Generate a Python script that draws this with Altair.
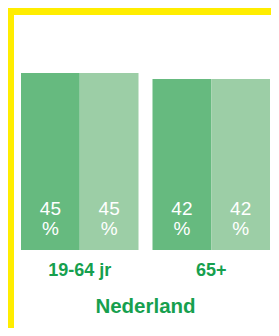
import altair as alt
import pandas as pd

# data
groups = ["19-64 jr", "19-64 jr", "65+", "65+"]
series = ["A", "B", "A", "B"]
heights = [45, 45, 43.5, 43.5]          # bar heights
labels = ["45", "45", "42", "42"]       # printed values
group_names = ["19-64 jr", "65+"]
series_names = ["A", "B"]
series_colors = ["#66BA7F", "#9CCEA6"]
title_text = "Nederland"

GREEN = "#16A04E"
YELLOW = "#FFED00"
FONT = "Liberation Sans"

df = pd.DataFrame({"groep": groups, "reeks": series, "waarde": heights, "label": labels})
gdf = pd.DataFrame({"groep": group_names})

x = alt.X("groep:N", sort=group_names, axis=None,
          scale=alt.Scale(paddingInner=28 / 263, paddingOuter=0))
xo = alt.XOffset("reeks:N", sort=series_names,
                 scale=alt.Scale(paddingInner=0, paddingOuter=0))
y = alt.Y("waarde:Q", axis=None, scale=alt.Scale(domain=[0, 45], nice=False, zero=True))

bars = alt.Chart(df).mark_bar(strokeWidth=0).encode(
    x=x, xOffset=xo, y=y,
    color=alt.Color("reeks:N", scale=alt.Scale(domain=series_names, range=series_colors), legend=None),
)

num = alt.Chart(df).mark_text(font=FONT, fontSize=19, color="white", baseline="alphabetic",
                              align="center", dy=-35).encode(
    x=x, xOffset=xo, y=alt.datum(0), text="label:N")

pct = alt.Chart(df).mark_text(font=FONT, fontSize=19, color="white", baseline="alphabetic",
                              align="center", dy=-15).encode(
    x=x, xOffset=xo, y=alt.datum(0), text=alt.value("%"))

glab = alt.Chart(gdf).mark_text(font=FONT, fontSize=18, fontWeight="bold", color=GREEN,
                                baseline="alphabetic", align="center", dy=26).encode(
    x=x, y=alt.datum(0), text="groep:N")

title = alt.Chart(gdf).transform_filter(alt.datum.groep == group_names[0]).mark_text(
    font=FONT, fontSize=20.5, fontWeight="bold", color=GREEN,
    baseline="alphabetic", align="center", dy=62.5).encode(
    x=alt.value(124.5), y=alt.datum(0), text=alt.value(title_text))

frame_top = alt.Chart(gdf).transform_filter(alt.datum.groep == group_names[0]).mark_rect(
    color=YELLOW).encode(
    x=alt.value(-13), x2=alt.value(250), y=alt.value(-65), y2=alt.value(-58))
frame_left = alt.Chart(gdf).transform_filter(alt.datum.groep == group_names[0]).mark_rect(
    color=YELLOW).encode(
    x=alt.value(-13), x2=alt.value(-7), y=alt.value(-65), y2=alt.value(255))

chart = alt.layer(frame_top, frame_left, bars, num, pct, glab, title).properties(
    width=249, height=177,
    autosize=alt.AutoSizeParams(type="none"),
    padding={"left": 13, "top": 65, "right": 1, "bottom": 78},
    background="white",
).configure_view(stroke=None)

chart.save("out.html", embed_options={"renderer": "svg", "actions": False})
